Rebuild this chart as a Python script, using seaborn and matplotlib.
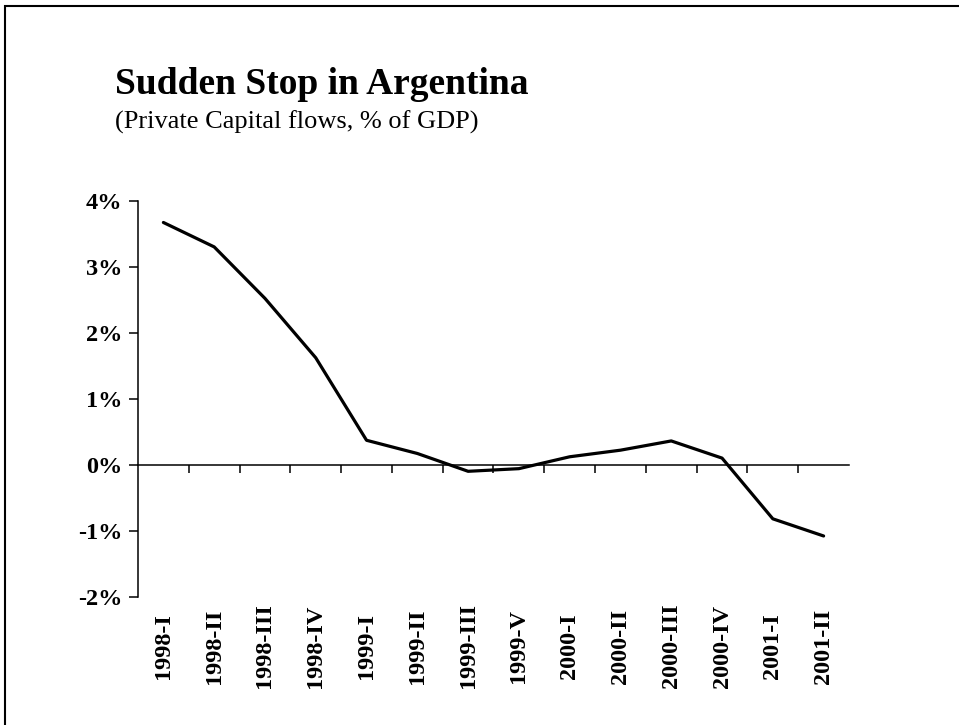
import numpy as np
import pandas as pd
import matplotlib
matplotlib.use("Agg")
import matplotlib.pyplot as plt
from matplotlib.ticker import FixedLocator, FuncFormatter
from matplotlib.patches import Rectangle
import seaborn as sns

quarters = ["1998-I", "1998-II", "1998-III", "1998-IV", "1999-I", "1999-II",
            "1999-III", "1999-V", "2000-I", "2000-II", "2000-III", "2000-IV",
            "2001-I", "2001-II"]
flows = [3.67, 3.30, 2.52, 1.62, 0.37, 0.17, -0.10, -0.06, 0.12, 0.22,
         0.36, 0.10, -0.82, -1.08]
y_ticks = [-2, -1, 0, 1, 2, 3, 4]

title = "Sudden Stop in Argentina"
subtitle = "(Private Capital flows, % of GDP)"

sns.set_style("white")
plt.rcParams["font.family"] = ["Liberation Serif", "DejaVu Serif"]
plt.rcParams["text.color"] = "black"
plt.rcParams["xtick.color"] = "black"
plt.rcParams["ytick.color"] = "black"
plt.rcParams["axes.labelcolor"] = "black"

W, H = 959, 725
fig = plt.figure(figsize=(W / 100, H / 100), dpi=100)
ax = fig.add_axes([138 / W, (H - 596.7) / H, (849 - 138) / W, (596.7 - 200.7) / H])

df = pd.DataFrame({"pos": np.arange(len(quarters)), "flow": flows})
sns.lineplot(data=df, x="pos", y="flow", ax=ax, color="black", linewidth=2.3)

ax.set_xlim(-0.5, len(quarters) - 0.5)
ax.set_ylim(min(y_ticks), max(y_ticks))
ax.set_xlabel("")
ax.set_ylabel("")

for s in ["top", "right"]:
    ax.spines[s].set_visible(False)
ax.spines["left"].set_linewidth(1.1)
ax.spines["left"].set_color("black")
ax.spines["bottom"].set_position(("data", 0))
ax.spines["bottom"].set_linewidth(1.1)
ax.spines["bottom"].set_color("black")

ax.set_yticks(y_ticks)
ax.yaxis.set_major_formatter(FuncFormatter(lambda v, p: f"{int(round(v))}%"))
ax.tick_params(axis="y", direction="out", length=6.5, width=1.1, pad=5,
               left=True, labelsize=17.5, colors="black")
for lab in ax.get_yticklabels():
    lab.set_fontweight("bold")
    lab.set_color("black")

ax.xaxis.set_major_locator(FixedLocator(np.arange(len(quarters))))
ax.set_xticklabels(quarters, rotation=90, fontsize=17.5, fontweight="bold",
                   va="center", ha="center", color="black")
ax.xaxis.set_minor_locator(FixedLocator(np.arange(len(quarters) - 1) + 0.5))
ax.tick_params(axis="x", which="major", length=0, pad=130.5, bottom=True,
               colors="black")
ax.tick_params(axis="x", which="minor", direction="out", length=6, width=1.1,
               bottom=True, colors="black")
ax.grid(False)

fig.text(115 / W, (H - 94) / H, title, fontsize=27, fontweight="bold",
         ha="left", va="baseline", color="black")
fig.text(115 / W, (H - 129) / H, subtitle, fontsize=19,
         ha="left", va="baseline", color="black")

fig.patches.append(Rectangle((4.5 / W, -0.2), 1.3, (H - 5.5) / H + 0.2,
                             transform=fig.transFigure, fill=False,
                             edgecolor="black", linewidth=1.5))

fig.savefig("out.png", dpi=100)
